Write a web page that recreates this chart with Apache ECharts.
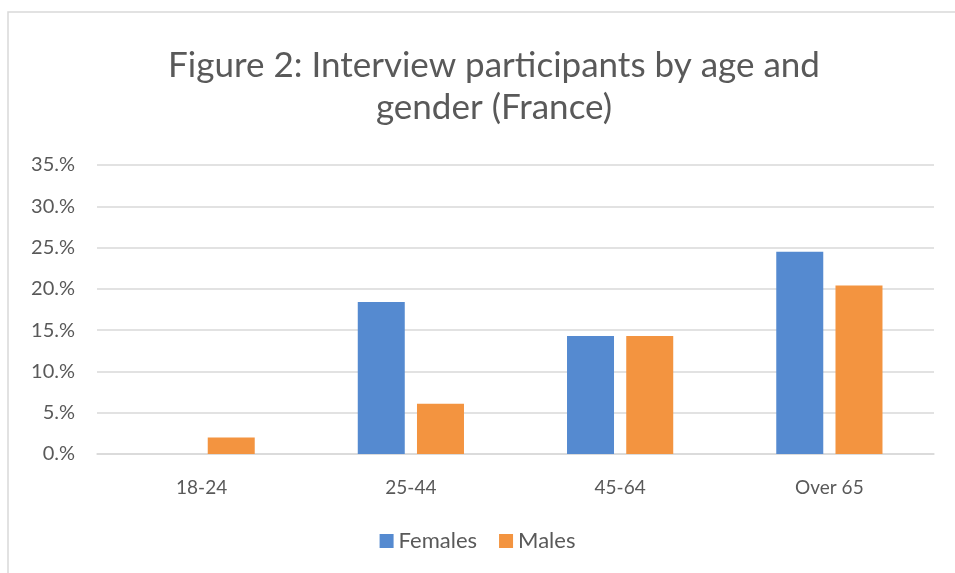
<!DOCTYPE html>
<html>
<head>
<meta charset="utf-8">
<script src="https://cdn.jsdelivr.net/npm/echarts@6/dist/echarts.min.js"></script>
<style>
  html, body { margin: 0; padding: 0; background: #fff; }
  #chart { width: 955px; height: 573px; }
</style>
</head>
<body>
<div id="chart"></div>
<script>
const ageGroups = ["18-24", "25-44", "45-64", "Over 65"];
const females = [0, 18.4, 14.3, 24.5];
const males = [2.0, 6.1, 14.3, 20.4];

const textColor = "#595959";
const font = "Lato, 'Open Sans', sans-serif";

const chart = echarts.init(document.getElementById("chart"));

chart.setOption({
  backgroundColor: "#fff",
  animation: false,
  title: {
    text: "Figure 2: Interview participants by age and\ngender (France)",
    left: 489,
    textAlign: "center",
    top: 40,
    textStyle: { color: textColor, fontSize: 35, fontWeight: "normal", fontFamily: font, lineHeight: 42 },
  },
  graphic: [
    {
      type: "rect",
      shape: { x: 8, y: 12, width: 1000, height: 700 },
      style: { fill: "none", stroke: "#d9d9d9", lineWidth: 1.5 },
      silent: true,
    },
  ],
  legend: {
    data: ["Females", "Males"],
    bottom: 16,
    left: "center",
    itemWidth: 14,
    itemHeight: 14,
    itemGap: 22,
    icon: "rect",
    textStyle: { color: textColor, fontSize: 22, fontFamily: font },
  },
  grid: { left: 97, right: 21, top: 165, bottom: 119 },
  xAxis: {
    type: "category",
    data: ageGroups,
    axisTick: { show: false },
    axisLine: { lineStyle: { color: "#d9d9d9", width: 1.5 } },
    axisLabel: { color: textColor, fontSize: 19, fontFamily: font, margin: 24 },
  },
  yAxis: {
    type: "value",
    min: 0,
    max: 35,
    interval: 5,
    axisLine: { show: false },
    axisTick: { show: false },
    splitLine: { lineStyle: { color: "#d9d9d9", width: 1.5 } },
    axisLabel: {
      color: textColor,
      fontSize: 20,
      fontFamily: font,
      margin: 22,
      formatter: (v) => v + ".%",
    },
  },
  series: [
    {
      name: "Females",
      type: "bar",
      data: females,
      barWidth: 47,
      barGap: "26%",
      itemStyle: { color: "#558ad0" },
    },
    {
      name: "Males",
      type: "bar",
      data: males,
      barWidth: 47,
      itemStyle: { color: "#f39440" },
    },
  ],
});
</script>
</body>
</html>
